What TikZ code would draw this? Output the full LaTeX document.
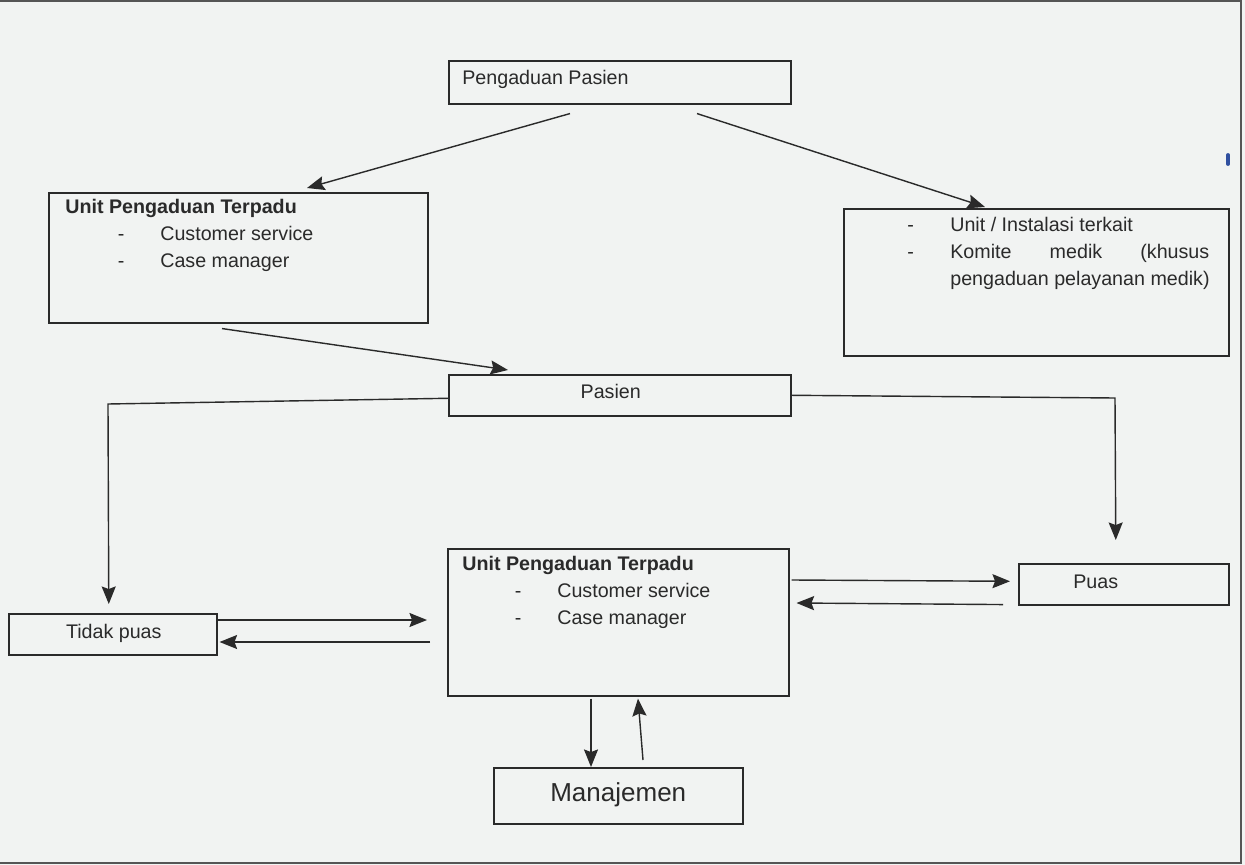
\documentclass[tikz,border=0pt]{standalone}
\usepackage{fontspec}
\setmainfont{Liberation Sans}
\usetikzlibrary{arrows.meta,calc}

\definecolor{paper}{HTML}{F1F3F2}
\definecolor{ink}{HTML}{2A2A2A}
\definecolor{penblue}{HTML}{3050A0}

\tikzset{
  box/.style={draw=ink,line width=0.9pt,anchor=north west,inner sep=0pt},
  txt/.style={text=ink,inner sep=0pt,font=\fontsize{11.2}{15.4}\selectfont},
  link/.style={draw=ink,line width=0.8pt}
}

\begin{document}
\begin{tikzpicture}[x=0.02cm,y=-0.02cm,>={Stealth[length=10pt,width=8pt,inset=1.5pt]}]
  \fill[paper] (0,0) rectangle (1245,865);
  \useasboundingbox (0,0) rectangle (1245,865);
  \draw[ink!80,line width=1pt] (0,1) -- (1241,1) -- (1241,863) -- (0,863);

  % boxes
  \node[box,minimum width=6.84cm,minimum height=0.86cm] (pp) at (448,60) {};
  \node[box,minimum width=7.58cm,minimum height=2.6cm] (upt1) at (48,192) {};
  \node[box,minimum width=7.7cm,minimum height=2.94cm] (unit) at (843,208) {};
  \node[box,minimum width=6.84cm,minimum height=0.82cm] (pas) at (448,374) {};
  \node[box,minimum width=6.82cm,minimum height=2.94cm] (upt2) at (447,548) {};
  \node[box,minimum width=4.2cm,minimum height=0.82cm] (puas) at (1018,563) {};
  \node[box,minimum width=4.16cm,minimum height=0.82cm] (tidak) at (8,613) {};
  \node[box,minimum width=4.98cm,minimum height=1.12cm] (man) at (493,767) {};

  % texts
  \node[txt,anchor=west] (ppt) at ($(pp.west)+(14,-3)$) {Pengaduan Pasien};
  \node[txt,anchor=north west,align=left] (upt1t) at ($(upt1.north west)+(17,7)$)
    {\textbf{Unit Pengaduan Terpadu}\\
     \makebox[1.9cm][l]{\hspace{1.05cm}-}Customer service\\
     \makebox[1.9cm][l]{\hspace{1.05cm}-}Case manager};
  \node[txt,anchor=north west,align=left] (unitt) at ($(unit.north west)+(64,9)$)
    {\makebox[0.86cm][l]{-}Unit / Instalasi terkait\\
     \makebox[0.86cm][l]{-}\makebox[5.18cm][s]{Komite medik (khusus}\\
     \hspace*{0.86cm}pengaduan pelayanan medik)};
  \node[txt] (past) at ($(pas.center)+(-9,-4)$) {Pasien};
  \node[txt,anchor=north west,align=left] (upt2t) at ($(upt2.north west)+(15,8)$)
    {\textbf{Unit Pengaduan Terpadu}\\
     \makebox[1.9cm][l]{\hspace{1.05cm}-}Customer service\\
     \makebox[1.9cm][l]{\hspace{1.05cm}-}Case manager};
  \node[txt] (puast) at ($(puas.center)+(-28,-2)$) {Puas};
  \node[txt] (tidakt) at ($(tidak.center)+(1,-1)$) {Tidak puas};
  \node[txt,font=\fontsize{14.8}{18}\selectfont] (mant) at ($(man.center)+(0,-1)$) {Manajemen};

  % corners of the elbow lines
  \coordinate (lc) at (108,404);
  \coordinate (rc) at (1115,398);

  % arrows
  \draw[link,->] ($(pp.south west)+(122,9)$) -- ($(upt1.north west)+(259,-4)$);
  \draw[link,->] ($(pp.south west)+(249,9)$) -- ($(unit.north west)+(142,-1)$);
  \draw[link,->] ($(upt1.south west)+(174,5)$) -- ($(pas.north west)+(60,-4)$);
  \draw[link,->] ($(pas.west)+(0,3)$) -- (lc) -- ($(tidak.north)+(-4,-9)$);
  \draw[link,->] (pas.east) -- (rc) -- ($(puas.north)+(-8,-23)$);
  \draw[link,->] ($(upt2.north east)+(2,32)$) -- ($(puas.west)+(-8,-3)$);
  \draw[link,->] ($(puas.south west)+(-15,-1)$) -- ($(upt2.north east)+(7,55)$);
  \draw[link,->] ($(tidak.north east)+(0,7)$) -- ($(upt2.north west)+(-20,72)$);
  \draw[link,->] ($(upt2.north west)+(-17,94)$) -- ($(tidak.north east)+(2,29)$);
  \draw[link,->] ($(upt2.south west)+(144,2)$) -- ($(man.north west)+(98,0)$);
  \draw[link,->] ($(man.north west)+(150,-7)$) -- ($(upt2.south west)+(191,2)$);

  % stray pen mark
  \draw[penblue,line width=2.2pt,line cap=round] (1228,155) -- (1228,164);
\end{tikzpicture}
\end{document}
